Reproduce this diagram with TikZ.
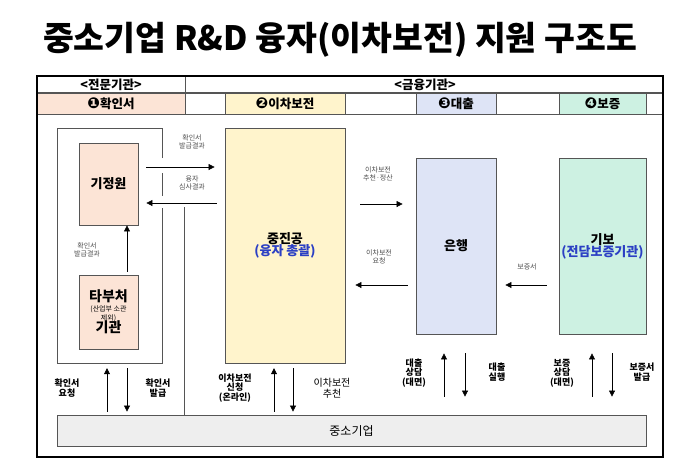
\documentclass[tikz,border=0pt]{standalone}
\usepackage{fontspec}
\setmainfont{Noto Sans CJK KR}
\newfontfamily\dejavu[Scale=1.2]{DejaVu Sans}
\usetikzlibrary{arrows.meta,calc}
\definecolor{pinkF}{HTML}{FCE4D6}
\definecolor{yellowF}{HTML}{FFF4CC}
\definecolor{lavF}{HTML}{DEE4F6}
\definecolor{greenF}{HTML}{CDF1E2}
\definecolor{greyF}{HTML}{EEEEEE}
\definecolor{blueT}{HTML}{2B3FC4}
\definecolor{lineC}{HTML}{555555}
\tikzset{
  box/.style={draw=lineC, line width=0.8pt, inner sep=0pt, align=center},
  arr/.style={-{Triangle[length=6pt,width=6pt]}, line width=0.6pt},
  lbl/.style={font=\fontsize{7}{8.5}\selectfont, text=black!70, align=center, inner sep=0pt},
  blbl/.style={font=\bfseries\fontsize{9}{9.5}\selectfont, align=center, inner sep=0pt},
  tlbl/.style={font=\bfseries\fontsize{9}{9.5}\selectfont, align=center, inner sep=0pt},
  head/.style={font=\bfseries\fontsize{12.5}{14}\selectfont, inner sep=0pt},
  btxt/.style={font=\bfseries\fontsize{13}{15}\selectfont},
}
\begin{document}
\begin{tikzpicture}[x=1pt,y=-1pt]
\useasboundingbox (0,0) rectangle (700,467);
% title
\node[font=\bfseries\fontsize{33.5}{35}\selectfont, inner sep=0pt] (title) at (340,40) {중소기업 R\&D 융자(이차보전) 지원 구조도};
% header fills
\fill[pinkF] (37,93) rectangle (185,114);
\fill[yellowF] (225,93) rectangle (345,114);
\fill[lavF] (416,93) rectangle (496,114);
\fill[greenF] (559,93) rectangle (646,114);
% header lines
\draw[lineC, line width=1.4pt] (37,93) -- (663,93);
\draw[lineC, line width=0.8pt] (37,114) -- (663,114);
\draw[lineC, line width=0.8pt] (185,76) -- (185,114);
\foreach \xx in {225,345,416,496,559,646} \draw[lineC, line width=0.8pt] (\xx,93) -- (\xx,114);
% frame
\draw[line width=1.6pt] (37,76) rectangle (663,457);
% header texts
\node[head] (h1) at (111,85) {<전문기관>};
\node[head] (h2) at (425,85) {<금융기관>};
\node[head] (c1) at (111,104) {{\dejavu ❶}확인서};
\node[head] (c2) at (285,104) {{\dejavu ❷}이차보전};
\node[head] (c3) at (456,104) {{\dejavu ❸}대출};
\node[head] (c4) at (602.5,104) {{\dejavu ❹}보증};
% group box (outline with gaps)
\node[inner sep=0pt, minimum width=105pt, minimum height=235pt] (grp) at (109.5,245.5) {};
\draw[lineC, line width=0.8pt] (162,158) -- (162,128) -- (57,128) -- (57,363) -- (162,363) -- (162,208);
\draw[lineC, line width=0.8pt] (162,173) -- (162,196);
% divider line
\coordinate (dv) at (184,207);
\draw[lineC, line width=0.8pt] (dv) -- (184,415);
% boxes
\node[box, btxt, fill=pinkF, minimum width=59pt, minimum height=82pt] (kij) at (108.5,184) {기정원};
\node[box, fill=pinkF, minimum width=59pt, minimum height=74pt] (tbc) at (108.5,312) {{\bfseries\fontsize{14}{13}\selectfont 타부처}\\[-2pt]{\fontsize{7}{7}\selectfont (산업부 소관}\\[-3pt]{\fontsize{7}{7}\selectfont 제외)}\\[-2pt]{\bfseries\fontsize{14}{13}\selectfont 기관}};
\node[box, btxt, fill=yellowF, minimum width=120pt, minimum height=235pt] (jjg) at (285,245.5) {중진공\\[-3pt]\textcolor{blueT}{(융자 총괄)}};
\node[box, btxt, fill=lavF, minimum width=80pt, minimum height=176pt] (bank) at (456,246) {은행};
\node[box, btxt, fill=greenF, minimum width=87pt, minimum height=176pt] (gibo) at (602.5,246) {기보\\[-3pt]\textcolor{blueT}{(전담보증기관)}};
\node[box, font=\fontsize{12}{14}\selectfont, fill=greyF, minimum width=589pt, minimum height=31pt] (sme) at (351.5,430.5) {중소기업};
% level coordinates
\coordinate (yA) at (0,167);
\coordinate (yB) at (0,203);
\coordinate (yC) at (0,204);
\coordinate (yD) at (0,285);
\coordinate (xC) at (127,0);
% top arrows
\draw[arr, shorten <=8pt, shorten >=10pt] (kij.east |- yA) -- (jjg.west |- yA);
\draw[arr, shorten <=8pt, shorten >=8pt] (jjg.west |- yB) -- (kij.east |- yB);
\draw[arr, shorten <=3pt] (tbc.north -| xC) -- (kij.south -| xC);
\draw[arr, shorten <=15pt, shorten >=13pt] (jjg.east |- yC) -- (bank.west |- yC);
\draw[arr, shorten <=8pt, shorten >=10pt] (bank.west |- yD) -- (jjg.east |- yD);
\draw[arr, shorten <=12pt, shorten >=9pt] (gibo.west |- yD) -- (bank.east |- yD);
% bottom arrows
\foreach \u/\d in {107/127, 274/293}{
  \coordinate (u) at (\u,0); \coordinate (d) at (\d,0);
  \draw[arr, shorten <=3pt, shorten >=5pt] (sme.north -| u) -- (grp.south -| u);
  \draw[arr, shorten <=5pt, shorten >=3pt] (grp.south -| d) -- (sme.north -| d);
}
\foreach \u/\d in {444/465, 592/612}{
  \coordinate (u) at (\u,0); \coordinate (d) at (\d,0);
  \draw[arr, shorten <=18pt, shorten >=19pt] (sme.north -| u) -- (bank.south -| u);
  \draw[arr, shorten <=19pt, shorten >=18pt] (bank.south -| d) -- (sme.north -| d);
}
% labels
\node[lbl] (l1) at (192,142) {확인서\\발급결과};
\node[lbl] (l2) at (192,183) {융자\\심사결과};
\node[lbl] (l3) at (87,250) {확인서\\발급결과};
\node[lbl] (l4) at (378,174) {이차보전\\추천·정산};
\node[lbl] (l5) at (379,257) {이차보전\\요청};
\node[lbl] (l6) at (527,267) {보증서};
\node[blbl] (b1) at (67,388) {확인서\\요청};
\node[blbl] (b2) at (158,388) {확인서\\발급};
\node[blbl] (b3) at (235,388) {이차보전\\신청\\(온라인)};
\node[font=\fontsize{10}{10.5}\selectfont, align=center, inner sep=0pt] (b4) at (332,388) {이차보전\\추천};
\node[tlbl] (b5) at (414,373) {대출\\상담\\(대면)};
\node[tlbl] (b6) at (497,372) {대출\\실행};
\node[tlbl] (b7) at (562,373) {보증\\상담\\(대면)};
\node[tlbl] (b8) at (642,372) {보증서\\발급};
\end{tikzpicture}
\end{document}
